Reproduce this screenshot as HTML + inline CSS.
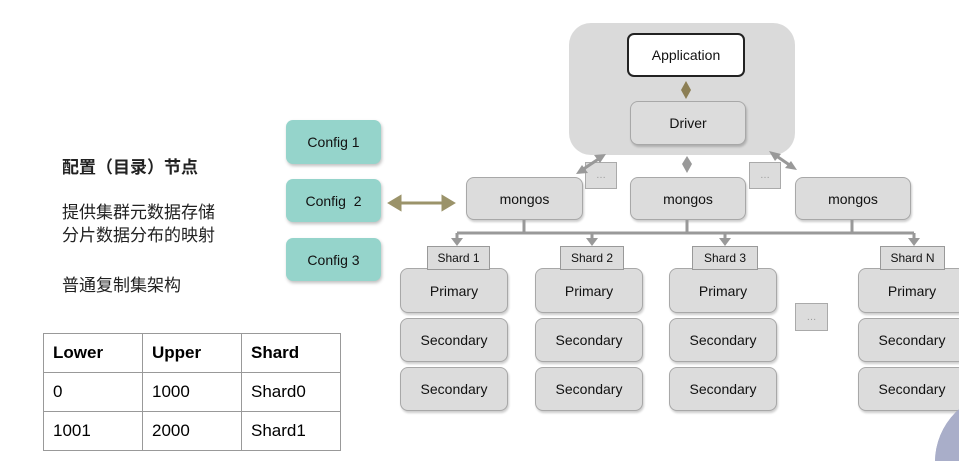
<!DOCTYPE html>
<html style="overflow:hidden;width:959px;height:461px"><head><meta charset="utf-8"><style>
body{margin:0;width:959px;height:461px;background:#fff;overflow:hidden;position:relative;font-family:"Liberation Sans","Noto Sans CJK SC",sans-serif;}
.a{position:absolute;box-sizing:border-box;display:flex;align-items:center;justify-content:center;color:#111;}
.g{background:#dcdcdc;border:1.5px solid #a8a8a8;border-radius:8px;box-shadow:1px 2px 2px rgba(0,0,0,.2);font-size:14px;}
.c{background:#95d4cb;border-radius:7px;box-shadow:1px 2px 3px rgba(0,0,0,.25);font-size:14px;}
.s{background:#dcdcdc;border:1px solid #999;font-size:12px;}
.d{background:#dcdcdc;border:1px solid #aaa;font-size:10px;color:#999;}
.t{position:absolute;font-size:17px;color:#222;}
table{position:absolute;left:43px;top:333px;border-collapse:collapse;font-size:17px;}
td{border:1.5px solid #999;width:99px;height:39px;box-sizing:border-box;padding:0 0 0 9px;}
</style></head><body>
<div class="t" style="left:62px;top:153px;font-weight:bold;">配置（目录）节点</div>
<div class="t" style="left:62px;top:201px;line-height:23px;">提供集群元数据存储<br>分片数据分布的映射</div>
<div class="t" style="left:62px;top:271px;">普通复制集架构</div>
<table><tr style="font-weight:bold"><td>Lower</td><td>Upper</td><td>Shard</td></tr><tr><td>0</td><td>1000</td><td>Shard0</td></tr><tr><td>1001</td><td>2000</td><td>Shard1</td></tr></table>
<div class="a c" style="left:286px;top:120px;width:95px;height:44px;">Config 1</div>
<div class="a c" style="left:286px;top:179px;width:95px;height:43px;">Config&nbsp; 2</div>
<div class="a c" style="left:286px;top:238px;width:95px;height:43px;">Config 3</div>
<div class="a" style="left:569px;top:23px;width:226px;height:132px;background:#dadada;border-radius:22px;"></div>
<div class="a" style="left:627px;top:33px;width:118px;height:44px;background:#fff;border:2px solid #222;border-radius:7px;font-size:14px;">Application</div>
<div class="a g" style="left:630px;top:101px;width:116px;height:44px;">Driver</div>
<div class="a g" style="left:466px;top:177px;width:117px;height:43px;">mongos</div>
<div class="a g" style="left:630px;top:177px;width:116px;height:43px;">mongos</div>
<div class="a g" style="left:795px;top:177px;width:116px;height:43px;">mongos</div>
<div class="a d" style="left:585px;top:162px;width:32px;height:27px;">…</div>
<div class="a d" style="left:749px;top:162px;width:32px;height:27px;">…</div>
<div class="a d" style="left:795px;top:303px;width:33px;height:28px;">…</div>
<svg style="position:absolute;left:0;top:0" width="959" height="461">
<g fill="#8c7f55"><polygon points="686,81 691,90 686,99 681,90"/></g>
<g fill="#9b936a" stroke="#9b936a" stroke-width="3"><line x1="398" y1="203" x2="445" y2="203"/><polygon points="390,203 400,197 400,209"/><polygon points="453,203 443,197 443,209"/></g>
<g fill="#999" stroke="#999" stroke-width="3">
<polygon points="687,156 692,164 687,173 682,164" stroke="none"/>
<line x1="600" y1="158" x2="582" y2="170"/><polygon points="606,154 594,155 600,163" stroke="none"/><polygon points="576,174 588,173 582,165" stroke="none"/>
<line x1="775" y1="155" x2="791" y2="166"/><polygon points="769,151 775,161 781,154" stroke="none"/><polygon points="797,170 791,161 785,168" stroke="none"/>
<line x1="457" y1="233" x2="914" y2="233"/><line x1="524" y1="220" x2="524" y2="233"/><line x1="687" y1="220" x2="687" y2="233"/><line x1="852" y1="220" x2="852" y2="233"/>
<line x1="457" y1="233" x2="457" y2="240"/><line x1="592" y1="233" x2="592" y2="240"/><line x1="725" y1="233" x2="725" y2="240"/><line x1="914" y1="233" x2="914" y2="240"/>
<polygon points="451,238 463,238 457,246" stroke="none"/><polygon points="586,238 598,238 592,246" stroke="none"/><polygon points="719,238 731,238 725,246" stroke="none"/><polygon points="908,238 920,238 914,246" stroke="none"/>
</g>
<circle cx="1005" cy="462" r="70" fill="#a9aec9"/>
</svg>
<div class="a g" style="left:400px;top:268px;width:108px;height:45px;">Primary</div>
<div class="a g" style="left:400px;top:318px;width:108px;height:44px;">Secondary</div>
<div class="a g" style="left:400px;top:367px;width:108px;height:44px;">Secondary</div>
<div class="a g" style="left:535px;top:268px;width:108px;height:45px;">Primary</div>
<div class="a g" style="left:535px;top:318px;width:108px;height:44px;">Secondary</div>
<div class="a g" style="left:535px;top:367px;width:108px;height:44px;">Secondary</div>
<div class="a g" style="left:669px;top:268px;width:108px;height:45px;">Primary</div>
<div class="a g" style="left:669px;top:318px;width:108px;height:44px;">Secondary</div>
<div class="a g" style="left:669px;top:367px;width:108px;height:44px;">Secondary</div>
<div class="a g" style="left:858px;top:268px;width:108px;height:45px;">Primary</div>
<div class="a g" style="left:858px;top:318px;width:108px;height:44px;">Secondary</div>
<div class="a g" style="left:858px;top:367px;width:108px;height:44px;">Secondary</div>
<svg style="position:absolute;left:0;top:0" width="959" height="461"><clipPath id="k"><rect x="935" y="380" width="30" height="81"/></clipPath><circle cx="1005" cy="462" r="70" fill="#a9aec9" clip-path="url(#k)"/></svg>
<div class="a s" style="left:427px;top:246px;width:63px;height:24px;">Shard 1</div>
<div class="a s" style="left:560px;top:246px;width:64px;height:24px;">Shard 2</div>
<div class="a s" style="left:692px;top:246px;width:66px;height:24px;">Shard 3</div>
<div class="a s" style="left:880px;top:246px;width:65px;height:24px;">Shard N</div>
</body></html>
